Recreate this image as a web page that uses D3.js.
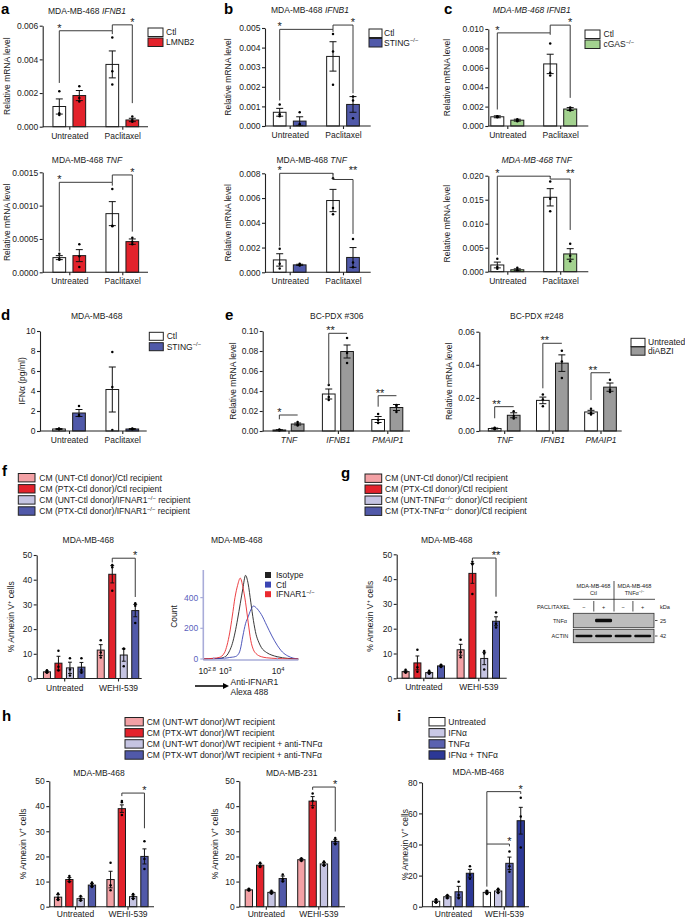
<!DOCTYPE html>
<html><head><meta charset="utf-8">
<script src="https://cdn.jsdelivr.net/npm/d3@7/dist/d3.min.js"></script>
<style>
body{margin:0;background:#fff;}
svg{display:block;font-family:"Liberation Sans",Arial,Helvetica,sans-serif;}
</style></head><body>
<svg id="chart" width="685" height="919"></svg>
<script>
// ================= DATA =================
const txGroups = ["Untreated", "Paclitaxel"];
const ctlLmnb2 = ["Ctl", "LMNB2"];
const ctlSting = ["Ctl", "STING^{−/−}"];
const ctlCgas = ["Ctl", "cGAS^{−/−}"];
const pdxGenes = ["TNF", "IFNB1", "PMAIP1"];
const pdxSeries = ["Untreated", "diABZI"];
const wehiGroups = ["Untreated", "WEHI-539"];
const fSeries = ["CM (UNT-Ctl donor)/Ctl recipient", "CM (PTX-Ctl donor)/Ctl recipient",
  "CM (UNT-Ctl donor)/IFNAR1^{−/−} recipient", "CM (PTX-Ctl donor)/IFNAR1^{−/−} recipient"];
const gSeries = ["CM (UNT-Ctl donor)/Ctl recipient", "CM (PTX-Ctl donor)/Ctl recipient",
  "CM (UNT-TNFα^{−/−} donor)/Ctl recipient", "CM (PTX-TNFα^{−/−} donor)/Ctl recipient"];
const hSeries = ["CM (UNT-WT donor)/WT recipient", "CM (PTX-WT donor)/WT recipient",
  "CM (UNT-WT donor)/WT recipient + anti-TNFα", "CM (PTX-WT donor)/WT recipient + anti-TNFα"];
const iSeries = ["Untreated", "IFNα", "TNFα", "IFNα + TNFα"];

// tick values
const a1Ticks = [0, 0.002, 0.004, 0.006];
const a2Ticks = [0, 0.0005, 0.001, 0.0015];
const b1Ticks = [0, 0.001, 0.002, 0.003, 0.004, 0.005];
const b2Ticks = [0, 0.002, 0.004, 0.006, 0.008];
const c1Ticks = [0, 0.002, 0.004, 0.006, 0.008, 0.010];
const c2Ticks = [0, 0.005, 0.010, 0.015, 0.020];
const dTicks = [0, 2, 4, 6, 8, 10];
const e1Ticks = [0, 0.02, 0.04, 0.06, 0.08, 0.10];
const e2Ticks = [0, 0.02, 0.04, 0.06];
const pctTicks = [0, 10, 20, 30, 40, 50];
const iTicks = [0, 20, 40, 60, 80];

// values [group][series], errors (SEM), replicate points
const a1Mean = [[0.0012, 0.00185], [0.0037, 0.0004]];
const a1Err = [[0.00045, 0.0003], [0.0008, 0.0001]];
const a1Pts = [[[0.0021, 0.0008, 0.0007], [0.0024, 0.0017, 0.0015]], [[0.0053, 0.0033, 0.0025], [0.0006, 0.0004, 0.0003]]];
const a1Brackets = [[0, 0, 1, 0, 0.0026, 0.0057, 0.0055, "*", 0], [1, 0, 1, 1, 0.0057, 0.00605, 0.0014, "*", 1]];

const a2Mean = [[0.00022, 0.00025], [0.00088, 0.00046]];
const a2Err = [[0.00003, 0.00009], [0.00018, 0.00004]];
const a2Pts = [[[0.00028, 0.0002, 0.00019], [0.00042, 0.00024, 0.00008]], [[0.00125, 0.0007, 0.00069], [0.00052, 0.00046, 0.00042]]];
const a2Brackets = [[0, 0, 1, 0, 0.00031, 0.00135, 0.0013, "*", 0], [1, 0, 1, 1, 0.00135, 0.00146, 0.00061, "*", 1]];

const b1Mean = [[0.0007, 0.00025], [0.00355, 0.0011]];
const b1Err = [[0.0002, 0.00022], [0.00075, 0.0004]];
const b1Pts = [[[0.0011, 0.0006, 0.0005], [0.0007, 0.0001, 0.00005]], [[0.0047, 0.0038, 0.0021], [0.0015, 0.0013, 0.0004]]];
const b1Brackets = [[0, 0, 1, 0, 0.0013, 0.00493, 0.0048, "*", 0], [1, 0, 1, 1, 0.00493, 0.00515, 0.00167, "*", 1]];

const b2Mean = [[0.001, 0.0006], [0.0058, 0.0012]];
const b2Err = [[0.0005, 0.00005], [0.0009, 0.0008]];
const b2Pts = [[[0.0019, 0.0007, 0.0003], [0.0007, 0.0006, 0.00055]], [[0.0076, 0.0052, 0.0047], [0.0027, 0.0008, 0.0004]]];
const b2Brackets = [[0, 0, 1, 0, 0.0021, 0.008, 0.0079, "*", 0], [1, 0, 1, 1, 0.008, 0.0075, 0.0031, "**", 1]];

const c1Mean = [[0.00095, 0.0006], [0.0064, 0.00175]];
const c1Err = [[0.0001, 0.0001], [0.001, 0.00015]];
const c1Pts = [[[0.001, 0.00095, 0.0009], [0.0007, 0.0006, 0.0005]], [[0.0085, 0.0055, 0.0052], [0.0019, 0.0017, 0.0016]]];
const c1Brackets = [[0, 0, 1, 0, 0.0017, 0.0096, 0.0094, "*", 0], [1, 0, 1, 1, 0.0096, 0.0104, 0.0029, "*", 1]];

const c2Mean = [[0.0014, 0.0004], [0.0155, 0.0037]];
const c2Err = [[0.0006, 0.0002], [0.0018, 0.0011]];
const c2Pts = [[[0.0027, 0.001, 0.0006], [0.0008, 0.0003, 0.0002]], [[0.0188, 0.0152, 0.0126], [0.0058, 0.0033, 0.0022]]];
const c2Brackets = [[0, 0, 1, 0, 0.0035, 0.0199, 0.0197, "*", 0], [1, 0, 1, 1, 0.0199, 0.0193, 0.0087, "**", 1]];

const dMean = [[0.2, 1.8], [4.15, 0.2]];
const dErr = [[0.05, 0.35], [2.25, 0.05]];
const dPts = [[[0.25, 0.2, 0.15], [2.5, 1.6, 1.5]], [[7.9, 4.4, 0.1], [0.25, 0.2, 0.15]]];

const e1Mean = [[0.001, 0.007], [0.037, 0.0795], [0.0115, 0.0235]];
const e1Err = [[0.0003, 0.001], [0.005, 0.0065], [0.003, 0.003]];
const e1Pts = [[[0.0015, 0.001, 0.0006], [0.009, 0.0068, 0.0055]], [[0.046, 0.034, 0.031], [0.093, 0.078, 0.068]], [[0.017, 0.011, 0.008], [0.026, 0.025, 0.019]]];
const e1Brackets = [[0, 0, 0, 1, 0.0117, 0.016, 0.016, "*", 0], [1, 0, 1, 1, 0.046, 0.0977, 0.0977, "**", 0.1], [2, 0, 2, 1, 0.0243, 0.0353, 0.0353, "**", 0.1]];

const e2Mean = [[0.0015, 0.0095], [0.0185, 0.041], [0.0115, 0.0265]];
const e2Err = [[0.0003, 0.0015], [0.002, 0.005], [0.001, 0.0025]];
const e2Pts = [[[0.002, 0.0015, 0.001], [0.012, 0.009, 0.0075]], [[0.022, 0.019, 0.015], [0.0485, 0.042, 0.032]], [[0.0135, 0.011, 0.010], [0.031, 0.025, 0.0235]]];
const e2Brackets = [[0, 0, 0, 1, 0.0077, 0.0147, 0.0147, "**", 0.1], [1, 0, 1, 1, 0.0258, 0.053, 0.053, "**", 0.1], [2, 0, 2, 1, 0.0187, 0.0352, 0.0352, "**", 0.1]];

const fMean = [[2.7, 6.2, 4.3, 4.6], [11.5, 42.2, 9.5, 27.5]];
const fErr = [[0.3, 2.8, 2.3, 1.9], [2.2, 3.5, 2.5, 2.5]];
const fPts = [[[3.3, 2.6, 2.3], [11.2, 4.8, 3.2], [8.2, 3.6, 1.2], [8.2, 3.4, 2.3]], [[15.5, 10.5, 8.5], [46, 45, 35.5], [12, 12, 5], [30.5, 29.5, 22.5]]];
const fBrackets = [[1, 1, 1, 3, 47, 48.7, 33, "*", 1]];

const gMean = [[2.7, 6.2, 2.3, 5.0], [11.5, 42.3, 8.0, 23.0]];
const gErr = [[0.3, 2.8, 0.3, 0.3], [2.2, 4.0, 2.5, 1.8]];
const gPts = [[[3.4, 2.5, 2.2], [11.5, 4.5, 2.6], [3.0, 2.1, 1.8], [5.5, 4.9, 4.6]], [[15.5, 10.5, 8.5], [47, 46, 34], [11, 10, 3.5], [26.5, 22, 20.5]]];
const gBrackets = [[1, 1, 1, 3, 47.5, 48.5, 32.9, "**", 1]];

const h1Mean = [[3.8, 10.8, 3.2, 8.6], [10.8, 39.0, 4.0, 20.0]];
const h1Err = [[1.0, 0.8, 0.7, 0.6], [3.3, 1.5, 0.7, 3.0]];
const h1Pts = [[[5.3, 3.5, 2.7], [12.2, 10.8, 9.8], [4.3, 3.1, 2.4], [9.6, 8.6, 7.8]], [[17.5, 8.5, 6.5], [42, 41.5, 36.5], [5.1, 4.1, 3.1], [26, 19, 15]]];
const h1Brackets = [[1, 1, 1, 3, 44, 45.2, 31.2, "*", 1]];

const h2Mean = [[6.7, 16.5, 5.7, 11.2], [18.7, 42.0, 17.0, 26.0]];
const h2Err = [[0.3, 0.6, 0.4, 1.0], [0.4, 1.8, 0.6, 0.8]];
const h2Pts = [[[7.1, 6.6, 6.4], [17.5, 16.3, 15.8], [6.3, 5.6, 5.2], [12.8, 11.0, 10.0]], [[19.3, 18.6, 18.2], [45, 42, 39.5], [18, 16.8, 16.3], [27.3, 26, 24.8]]];
const h2Brackets = [[1, 1, 1, 3, 46.5, 47.6, 29.9, "*", 1]];

const iMean = [[3.5, 6.4, 9.6, 21.5], [9.2, 10.1, 27.9, 55.3]];
const iErr = [[0.8, 0.8, 3.5, 2.5], [0.8, 1.0, 4.0, 8.6]];
const iPts = [[[4.8, 3.3, 2.5], [7.6, 6.3, 5.4], [16, 7.5, 5.5], [26, 20.5, 18]], [[10.2, 9.3, 8.2], [11.5, 10.2, 8.8], [35.5, 26, 22.5], [70, 58, 38]]];
const iBrackets = [[1, 0, 1, 3, 12.9, 74, 72.5, "*", 1], [1, 0, 1, 2, 40.3, 40.3, 38.8, "*", 1]];

// flow cytometry histogram (log10 intensity, counts)
const histLog10 = [2.6, 2.7, 2.8, 2.9, 3.0, 3.05, 3.1, 3.15, 3.2, 3.25, 3.3, 3.35, 3.4, 3.45, 3.5, 3.55, 3.6, 3.65, 3.7, 3.8, 3.9, 4.0, 4.1, 4.2, 4.3, 4.4];
const histIsotype = [0, 1, 2, 4, 12, 25, 55, 100, 170, 260, 360, 460, 545, 490, 370, 250, 160, 110, 75, 42, 25, 15, 8, 4, 2, 0];
const histCtl = [0, 1, 2, 3, 5, 7, 10, 12, 15, 25, 60, 150, 230, 275, 320, 345, 335, 315, 290, 220, 150, 90, 45, 20, 6, 0];
const histIfnar1 = [0, 2, 5, 10, 40, 90, 170, 280, 400, 480, 527, 470, 370, 240, 120, 60, 35, 22, 15, 8, 5, 3, 2, 1, 0, 0];
const histSeries = ["Isotype", "Ctl", "IFNAR1^{−/−}"];
const histTicks = [2.8, 3, 4];
const histYTicks = [0, 200, 400];

// western blot
const blotSigns = ["−", "+", "−", "+"];
const blotTnf = [0, 1, 0, 0];
const blotActin = [1, 1, 1, 1];
const blotMarkers = ["25", "42"];

// ================= DRAWING =================
const svg = d3.select("#chart");
const FS = 8.5;
const INK = "#1a1a1a";
const RED = "#e3222b", PINK = "#f3a1a5", LAV = "#c5c4e2", BLUE = "#5159a9";
const STING = "#5059a9", GREEN = "#a3d28f", GRAY = "#9b9b9b";

const defs = svg.append("defs");
defs.append("filter").attr("id", "blur").append("feGaussianBlur").attr("stdDeviation", 0.7);

function rich(parent, x, y, str, o = {}) {
  const fs = o.fs || FS;
  const t = parent.append("text").attr("x", x).attr("y", y).attr("font-size", fs)
    .attr("text-anchor", o.anchor || "start").attr("fill", o.fill || INK);
  if (o.italic) t.attr("font-style", "italic");
  if (o.weight) t.attr("font-weight", o.weight);
  if (o.transform) t.attr("transform", o.transform);
  const parts = str.split(/(\^\{[^}]*\}|_[^_]+_)/).filter(s => s.length);
  let up = false;
  parts.forEach(p => {
    let txt = p, sup = false, it = false;
    if (p.startsWith("^{")) { txt = p.slice(2, -1); sup = true; }
    else if (p.length > 2 && p.startsWith("_") && p.endsWith("_")) { txt = p.slice(1, -1); it = true; }
    const ts = t.append("tspan").text(txt);
    if (it) ts.attr("font-style", "italic");
    if (sup) { ts.attr("font-size", fs * 0.68).attr("dy", -fs * 0.38); up = true; }
    else if (up) { ts.attr("dy", fs * 0.38); up = false; }
  });
  return t;
}

function legend(parent, L, items, colors) {
  items.forEach((it, k) => {
    const yy = L.y + k * L.dy;
    parent.append("rect").attr("x", L.x).attr("y", yy).attr("width", L.w).attr("height", L.h)
      .attr("fill", colors[k]).attr("stroke", "#222").attr("stroke-width", 1);
    rich(parent, L.tx, yy + L.h / 2 + FS * 0.35, it);
  });
}

function panelLabel(x, y, s) {
  svg.append("text").attr("x", x).attr("y", y).attr("font-size", 15).attr("font-weight", "bold")
    .attr("fill", "#000").text(s);
}

function barPanel(c) {
  const g = svg.append("g");
  const max = d3.max(c.ticks);
  const y = d3.scaleLinear().domain([0, max]).range([c.y0, c.yTop]);
  const gx = d3.scalePoint().domain(c.groups).range([c.centers[0], c.centers[c.centers.length - 1]]);
  const n = c.series.length;
  const W = n * c.step - (c.step - c.barW);
  const sx = d3.scaleBand().domain(d3.range(n)).range([-W / 2, W / 2])
    .paddingInner((c.step - c.barW) / c.step).paddingOuter(0);
  const bw = sx.bandwidth();
  const bx = (gi, si) => gx(c.groups[gi]) + sx(si);
  const bc = (gi, si) => bx(gi, si) + bw / 2;
  const cap = Math.min(bw * 0.55, 7);

  // bars
  c.groups.forEach((gname, gi) => {
    c.series.forEach((s, si) => {
      const v = c.mean[gi][si];
      g.append("rect").attr("x", bx(gi, si)).attr("width", bw)
        .attr("y", y(v)).attr("height", y(0) - y(v))
        .attr("fill", c.colors[si]).attr("stroke", "#1a1a1a").attr("stroke-width", 1);
    });
  });
  // error bars and points
  c.groups.forEach((gname, gi) => {
    c.series.forEach((s, si) => {
      const v = c.mean[gi][si], e = c.err[gi][si], xc = bc(gi, si);
      const lo = Math.max(0, v - e), hi = v + e;
      g.append("path").attr("d", `M${xc},${y(lo)}V${y(hi)}M${xc - cap / 2},${y(hi)}H${xc + cap / 2}M${xc - cap / 2},${y(lo)}H${xc + cap / 2}`)
        .attr("stroke", "#111").attr("stroke-width", 1).attr("fill", "none");
      c.pts[gi][si].forEach(p => {
        g.append("circle").attr("cx", xc).attr("cy", y(p)).attr("r", 1.25).attr("fill", "#000");
      });
    });
  });
  // axes
  const ya = g.append("g").attr("transform", `translate(${c.ax},0)`)
    .call(d3.axisLeft(y).tickValues(c.ticks).tickFormat(d3.format(c.fmt)).tickSize(3).tickSizeOuter(0).tickPadding(1.5));
  ya.attr("font-family", null).attr("font-size", FS);
  ya.selectAll("text").attr("fill", INK);
  ya.selectAll("line,path").attr("stroke", "#222").attr("stroke-width", 1.1);

  const xa = g.append("g").attr("transform", `translate(0,${c.y0})`)
    .call(d3.axisBottom(gx).tickSize(3).tickSizeOuter(0).tickPadding(c.xPad == null ? 3 : c.xPad));
  xa.attr("font-family", null).attr("font-size", FS);
  xa.select(".domain").remove();
  xa.selectAll("line").attr("stroke", "#222").attr("stroke-width", 1.1);
  xa.selectAll("text").attr("fill", INK);
  if (c.catItalic) xa.selectAll("text").attr("font-style", "italic");
  g.append("line").attr("x1", c.ax).attr("x2", c.xEnd).attr("y1", c.y0).attr("y2", c.y0)
    .attr("stroke", "#222").attr("stroke-width", 1.1);

  // brackets
  (c.brackets || []).forEach(b => {
    const [g1, s1, g2, s2, from, lev, to, lab, at] = b;
    const x1 = bc(g1, s1), x2 = bc(g2, s2);
    g.append("path").attr("d", `M${x1},${y(from)}V${y(lev)}H${x2}V${y(to)}`)
      .attr("fill", "none").attr("stroke", "#3a3a3a").attr("stroke-width", 1);
    const lx = x1 + at * (x2 - x1);
    const ly = y(Math.max(from, lev));
    g.append("text").attr("x", lx).attr("y", ly + 1).attr("text-anchor", "middle")
      .attr("font-size", 11).attr("fill", INK).text(lab);
  });

  // titles
  if (c.title) rich(g, c.titleX, c.titleY, c.title, { anchor: "middle", italic: c.titleItalic });
  if (c.yTitle) rich(g, 0, 0, c.yTitle, { anchor: "middle", transform: `translate(${c.yTitleX},${(c.y0 + c.yTop) / 2}) rotate(-90)` });
  if (c.legend) legend(g, c.legend, c.series, c.colors);
}

// ---- panel a ----
panelLabel(1, 14, "a");
barPanel({ groups: txGroups, series: ctlLmnb2, colors: ["#fff", RED], mean: a1Mean, err: a1Err, pts: a1Pts,
  ticks: a1Ticks, fmt: ".3f", brackets: a1Brackets, ax: 42.7, xEnd: 148, y0: 126.7, yTop: 25.7,
  centers: [69.3, 122.3], barW: 12.7, step: 20, title: "MDA-MB-468 _IFNB1_", titleX: 87, titleY: 14,
  yTitle: "Relative mRNA level", yTitleX: 9.5, legend: { x: 148, y: 28, w: 15, h: 8.5, dy: 10, tx: 166 } });
barPanel({ groups: txGroups, series: ctlLmnb2, colors: ["#fff", RED], mean: a2Mean, err: a2Err, pts: a2Pts,
  ticks: a2Ticks, fmt: ".4f", brackets: a2Brackets, ax: 42.7, xEnd: 148, y0: 272.3, yTop: 172.3,
  centers: [69.3, 122.3], barW: 12.7, step: 20, title: "MDA-MB-468 _TNF_", titleX: 87, titleY: 163,
  yTitle: "Relative mRNA level", yTitleX: 9.5 });

// ---- panel b ----
panelLabel(224, 14, "b");
barPanel({ groups: txGroups, series: ctlSting, colors: ["#fff", STING], mean: b1Mean, err: b1Err, pts: b1Pts,
  ticks: b1Ticks, fmt: ".3f", brackets: b1Brackets, ax: 265, xEnd: 370.7, y0: 126, yTop: 28,
  centers: [289.7, 343], barW: 12.7, step: 20, title: "MDA-MB-468 _IFNB1_", titleX: 310, titleY: 13,
  yTitle: "Relative mRNA level", yTitleX: 231, legend: { x: 369, y: 29, w: 13, h: 8.5, dy: 9.5, tx: 384 } });
barPanel({ groups: txGroups, series: ctlSting, colors: ["#fff", STING], mean: b2Mean, err: b2Err, pts: b2Pts,
  ticks: b2Ticks, fmt: ".3f", brackets: b2Brackets, ax: 265, xEnd: 370.7, y0: 272.3, yTop: 173.3,
  centers: [289.7, 343], barW: 12.7, step: 20, title: "MDA-MB-468 _TNF_", titleX: 311.7, titleY: 162.5,
  yTitle: "Relative mRNA level", yTitleX: 231 });

// ---- panel c ----
panelLabel(444, 14, "c");
barPanel({ groups: txGroups, series: ctlCgas, colors: ["#fff", GREEN], mean: c1Mean, err: c1Err, pts: c1Pts,
  ticks: c1Ticks, fmt: ".3f", brackets: c1Brackets, ax: 488.3, xEnd: 588.3, y0: 126, yTop: 29,
  centers: [507.3, 560.2], barW: 13, step: 20, title: "MDA-MB-468 IFNB1", titleItalic: true, titleX: 531.7, titleY: 12.5,
  yTitle: "Relative mRNA level", yTitleX: 450, legend: { x: 585, y: 30, w: 15, h: 8.5, dy: 10, tx: 603.5 } });
barPanel({ groups: txGroups, series: ctlCgas, colors: ["#fff", GREEN], mean: c2Mean, err: c2Err, pts: c2Pts,
  ticks: c2Ticks, fmt: ".3f", brackets: c2Brackets, ax: 488.3, xEnd: 588.3, y0: 271.7, yTop: 175.7,
  centers: [507.3, 560.2], barW: 13, step: 20, title: "MDA-MB-468 TNF", titleItalic: true, titleX: 536.7, titleY: 163,
  yTitle: "Relative mRNA level", yTitleX: 450 });

// ---- panel d ----
panelLabel(1, 320, "d");
barPanel({ groups: txGroups, series: ctlSting, colors: ["#fff", STING], mean: dMean, err: dErr, pts: dPts,
  ticks: dTicks, fmt: "d", ax: 40, xEnd: 146.7, y0: 431, yTop: 331,
  centers: [69, 122.3], barW: 12.7, step: 20, title: "MDA-MB-468", titleX: 96.7, titleY: 319,
  yTitle: "IFNα (pg/ml)", yTitleX: 24.5, legend: { x: 149.3, y: 332.3, w: 14, h: 8, dy: 10.4, tx: 166.7 } });

// ---- panel e ----
panelLabel(225, 320, "e");
barPanel({ groups: pdxGenes, series: pdxSeries, colors: ["#fff", GRAY], mean: e1Mean, err: e1Err, pts: e1Pts,
  ticks: e1Ticks, fmt: ".2f", brackets: e1Brackets, ax: 262.7, xEnd: 410, y0: 431, yTop: 331,
  centers: [288.5, 337.9, 387.3], barW: 12.7, step: 18.3, catItalic: true, title: "BC-PDX #306", titleX: 336.7, titleY: 319,
  yTitle: "Relative mRNA level", yTitleX: 235.5 });
barPanel({ groups: pdxGenes, series: pdxSeries, colors: ["#fff", GRAY], mean: e2Mean, err: e2Err, pts: e2Pts,
  ticks: e2Ticks, fmt: ".2f", brackets: e2Brackets, ax: 479.3, xEnd: 621.7, y0: 431, yTop: 331.7,
  centers: [504.2, 552.3, 600.5], barW: 12.7, step: 19, catItalic: true, title: "BC-PDX #248", titleX: 536.7, titleY: 319,
  yTitle: "Relative mRNA level", yTitleX: 452, legend: { x: 631, y: 338.3, w: 14, h: 8.3, dy: 8.6, tx: 648 } });

// ---- panel f ----
panelLabel(2, 476, "f");
legend(svg.append("g"), { x: 18.3, y: 473.5, w: 16.7, h: 8.4, dy: 11.1, tx: 39.3 }, fSeries, [PINK, RED, LAV, BLUE]);
barPanel({ groups: wehiGroups, series: fSeries, colors: [PINK, RED, LAV, BLUE], mean: fMean, err: fErr, pts: fPts,
  ticks: pctTicks, fmt: "d", brackets: fBrackets, ax: 36.7, xEnd: 141.7, y0: 678.5, yTop: 555,
  centers: [64.2, 118], barW: 7, step: 11.5, title: "MDA-MB-468", titleX: 88.3, titleY: 543,
  yTitle: "% Annexin V^{+} cells", yTitleX: 14 });

// flow histogram
(function () {
  const g = svg.append("g");
  const hx = d3.scaleLog().domain([Math.pow(10, 2.6), Math.pow(10, 4.4)]).range([203.3, 298.3]);
  const hy = d3.scaleLinear().domain([0, 580]).range([659, 570]);
  const AX = "#a9acd9";
  rich(g, 236.7, 543, "MDA-MB-468", { anchor: "middle" });
  const line = d3.line().x(d => hx(Math.pow(10, d[0]))).y(d => hy(d[1])).curve(d3.curveMonotoneX);
  const cols = ["#222", "#3b45b3", "#ea2a2f"];
  [histIsotype, histCtl, histIfnar1].forEach((arr, k) => {
    g.append("path").attr("d", line(histLog10.map((v, j) => [v, arr[j]])))
      .attr("fill", "none").attr("stroke", cols[k]).attr("stroke-width", 0.9);
  });
  // axes
  g.append("line").attr("x1", hx.range()[0]).attr("x2", hx.range()[0]).attr("y1", hy(0)).attr("y2", hy(580))
    .attr("stroke", AX).attr("stroke-width", 1.6);
  g.append("line").attr("x1", hx.range()[0]).attr("x2", hx.range()[1]).attr("y1", hy(0) + 1).attr("y2", hy(0) + 1)
    .attr("stroke", AX).attr("stroke-width", 1.6);
  histYTicks.forEach(t => {
    g.append("line").attr("x1", hx.range()[0] - 3).attr("x2", hx.range()[0]).attr("y1", hy(t)).attr("y2", hy(t))
      .attr("stroke", AX).attr("stroke-width", 1.2);
    rich(g, hx.range()[0] - 5, hy(t) + 3, String(t), { anchor: "end", fill: "#5a5fbd" });
  });
  histTicks.forEach((t, k) => {
    const xx = hx(Math.pow(10, t));
    g.append("line").attr("x1", xx).attr("x2", xx).attr("y1", hy(0) + 1).attr("y2", hy(0) - 2).attr("stroke", AX).attr("stroke-width", 1.2);
    const lxp = k === 0 ? hx.range()[0] + 4 : xx + 1;
    rich(g, lxp, 674, "10^{" + t + "}", { anchor: "middle" });
  });
  rich(g, 0, 0, "Count", { anchor: "middle", transform: `translate(177,${(hy(0) + hy(580)) / 2 + 2}) rotate(-90)` });
  // legend
  histSeries.forEach((s, k) => {
    g.append("rect").attr("x", 265).attr("y", 572 + k * 9.6).attr("width", 6).attr("height", 6).attr("fill", cols[k]);
    rich(g, 276, 578 + k * 9.6, s);
  });
  // arrow
  g.append("line").attr("x1", 195).attr("x2", 224).attr("y1", 686).attr("y2", 686).attr("stroke", "#000").attr("stroke-width", 1.5);
  g.append("path").attr("d", "M223,683L229,686L223,689Z").attr("fill", "#000");
  rich(g, 230.5, 684.5, "Anti-IFNAR1");
  rich(g, 230.5, 695, "Alexa 488");
})();

// ---- panel g ----
panelLabel(341, 478, "g");
legend(svg.append("g"), { x: 365, y: 474, w: 16.7, h: 8.4, dy: 11, tx: 385 }, gSeries, [PINK, RED, LAV, BLUE]);
barPanel({ groups: wehiGroups, series: gSeries, colors: [PINK, RED, LAV, BLUE], mean: gMean, err: gErr, pts: gPts,
  ticks: pctTicks, fmt: "d", brackets: gBrackets, ax: 396.7, xEnd: 506.7, y0: 678.3, yTop: 554.3,
  centers: [423.3, 478.3], barW: 7, step: 11.8, title: "MDA-MB-468", titleX: 446.7, titleY: 543,
  yTitle: "% Annexin V^{+} cells", yTitleX: 373 });

// western blot
(function () {
  const g = svg.append("g");
  const L = 573.3, R = 654;
  const lx = d3.scalePoint().domain(d3.range(blotSigns.length)).range([584, 642.7]);
  const s = 5.6;
  rich(g, 593.5, 588, "MDA-MB-468", { fs: s, anchor: "middle" });
  rich(g, 593.5, 595, "Ctl", { fs: s, anchor: "middle" });
  rich(g, 634.5, 588, "MDA-MB-468", { fs: s, anchor: "middle" });
  rich(g, 634.5, 595, "TNFα^{−/−}", { fs: s, anchor: "middle" });
  g.append("line").attr("x1", 614).attr("x2", 614).attr("y1", 581).attr("y2", 611.5).attr("stroke", "#222").attr("stroke-width", 0.8);
  g.append("line").attr("x1", L).attr("x2", R + 1).attr("y1", 599.3).attr("y2", 599.3).attr("stroke", "#222").attr("stroke-width", 0.8);
  rich(g, 570, 608.7, "PACLITAXEL", { fs: s, anchor: "end" });
  rich(g, 660, 608.7, "kDa", { fs: s });
  blotSigns.forEach((sg, k) => rich(g, lx(k), 608.7, sg, { fs: s, anchor: "middle" }));
  [[0, 1], [2, 3]].forEach(([a, b]) => {
    const xx = (lx(a) + lx(b)) / 2;
    g.append("line").attr("x1", xx).attr("x2", xx).attr("y1", 601).attr("y2", 611.5).attr("stroke", "#222").attr("stroke-width", 0.8);
  });
  const rows = [{ name: "TNFα", y: 613.3, h: 14.4, v: blotTnf, bh: 3.6, bw: 17 }, { name: "ACTIN", y: 629.3, h: 13.4, v: blotActin, bh: 2.4, bw: 17 }];
  rows.forEach((r, k) => {
    g.append("rect").attr("x", L).attr("y", r.y).attr("width", R - L).attr("height", r.h)
      .attr("fill", "#bdbdbd").attr("stroke", "#333").attr("stroke-width", 0.8);
    r.v.forEach((v, j) => {
      if (v > 0) g.append("rect").attr("x", lx(j) - r.bw / 2).attr("y", r.y + r.h / 2 - r.bh / 2)
        .attr("width", r.bw).attr("height", r.bh).attr("rx", 1.2).attr("fill", "#111").attr("filter", "url(#blur)");
    });
    rich(g, 560, r.y + r.h / 2 + 2, r.name, { fs: s, anchor: "middle" });
    g.append("line").attr("x1", R + 1).attr("x2", R + 3.5).attr("y1", r.y + r.h / 2).attr("y2", r.y + r.h / 2).attr("stroke", "#222").attr("stroke-width", 0.8);
    rich(g, 660, r.y + r.h / 2 + 2, blotMarkers[k], { fs: s });
  });
})();

// ---- panel h ----
panelLabel(2, 721, "h");
legend(svg.append("g"), { x: 125, y: 717.5, w: 18.3, h: 8.4, dy: 11.1, tx: 146.7 }, hSeries, [PINK, RED, LAV, BLUE]);
barPanel({ groups: wehiGroups, series: hSeries, colors: [PINK, RED, LAV, BLUE], mean: h1Mean, err: h1Err, pts: h1Pts,
  ticks: pctTicks, fmt: "d", brackets: h1Brackets, ax: 49.3, xEnd: 154, y0: 906.7, yTop: 781,
  centers: [75, 127.5], barW: 7.3, step: 11.3, xPad: 1.5, title: "MDA-MB-468", titleX: 99, titleY: 775.5,
  yTitle: "% Annexin V^{+} cells", yTitleX: 25.5 });
barPanel({ groups: wehiGroups, series: hSeries, colors: [PINK, RED, LAV, BLUE], mean: h2Mean, err: h2Err, pts: h2Pts,
  ticks: pctTicks, fmt: "d", brackets: h2Brackets, ax: 239.3, xEnd: 345, y0: 906.7, yTop: 781,
  centers: [265.8, 318.3], barW: 7.3, step: 11.3, xPad: 1.5, title: "MDA-MB-231", titleX: 291.7, titleY: 775.5,
  yTitle: "% Annexin V^{+} cells", yTitleX: 217.5 });

// ---- panel i ----
panelLabel(397, 721, "i");
const iColors = ["#fff", "#c9c8e6", "#5a62b0", "#2c3896"];
legend(svg.append("g"), { x: 429, y: 717.5, w: 16, h: 8.4, dy: 11.1, tx: 448.3 }, iSeries, iColors);
barPanel({ groups: wehiGroups, series: iSeries, colors: iColors, mean: iMean, err: iErr, pts: iPts,
  ticks: iTicks, fmt: "d", brackets: iBrackets, ax: 422, xEnd: 529, y0: 906.7, yTop: 782.3,
  centers: [453, 503.8], barW: 7.3, step: 11.3, xPad: 1.5, title: "MDA-MB-468", titleX: 478.3, titleY: 775,
  yTitle: "% Annexin V^{+} cells", yTitleX: 407.5 });
</script>
</body></html>
